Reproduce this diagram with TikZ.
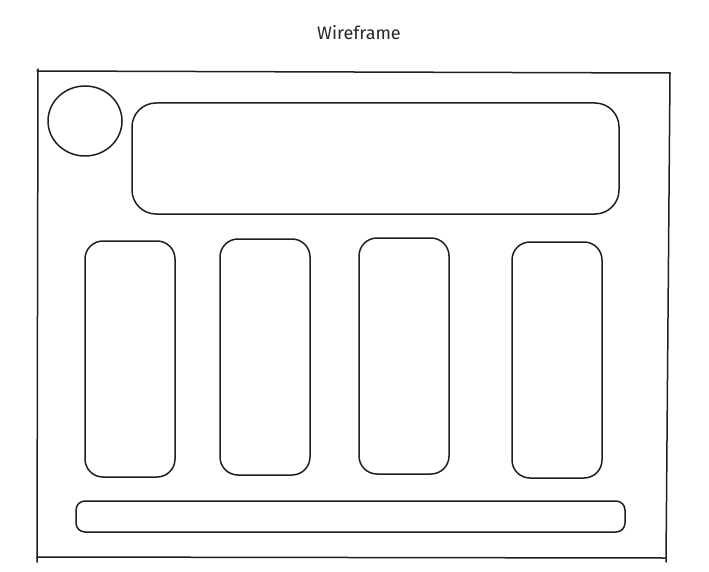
\documentclass[tikz,border=0pt]{standalone}
\usepackage{fontspec}
\setmainfont{Fira Sans}
\tikzset{
  sk/.style={draw=black!88, line width=1.5pt, line cap=round, line join=round},
  panel/.style={sk, rounded corners=18pt},
  banner/.style={sk, rounded corners=24pt},
  bar/.style={sk, rounded corners=9pt},
  titletext/.style={font=\fontsize{18}{21}\selectfont, text=black!85}
}
\begin{document}
\begin{tikzpicture}[x=1pt,y=-1pt]
\useasboundingbox (0,0) rectangle (709,572);
% title
\node[titletext] (title) at (359,33) {Wireframe};
% outer frame (slightly hand-drawn)
\coordinate (tl) at (37,71);
\coordinate (tr) at (670,73);
\coordinate (br) at (665,558);
\coordinate (bl) at (37,557);
\draw[sk] (tl) -- (tr);
\draw[sk] (tr) -- (666,562);
\draw[sk] (bl) -- (br);
\draw[sk] (38,69) -- (37,562);
% avatar circle
\draw[sk] (85,121) ellipse [x radius=37, y radius=35];
% header banner
\draw[banner] (132,103) rectangle (619,214);
% columns
\draw[panel] (85,241) rectangle (175,477);
\draw[panel] (220,239) rectangle (310,475);
\draw[panel] (359,238) rectangle (449,474);
\draw[panel] (512,242) rectangle (602,478);
% footer bar
\draw[bar] (76,501) rectangle (625,532);
\end{tikzpicture}
\end{document}
